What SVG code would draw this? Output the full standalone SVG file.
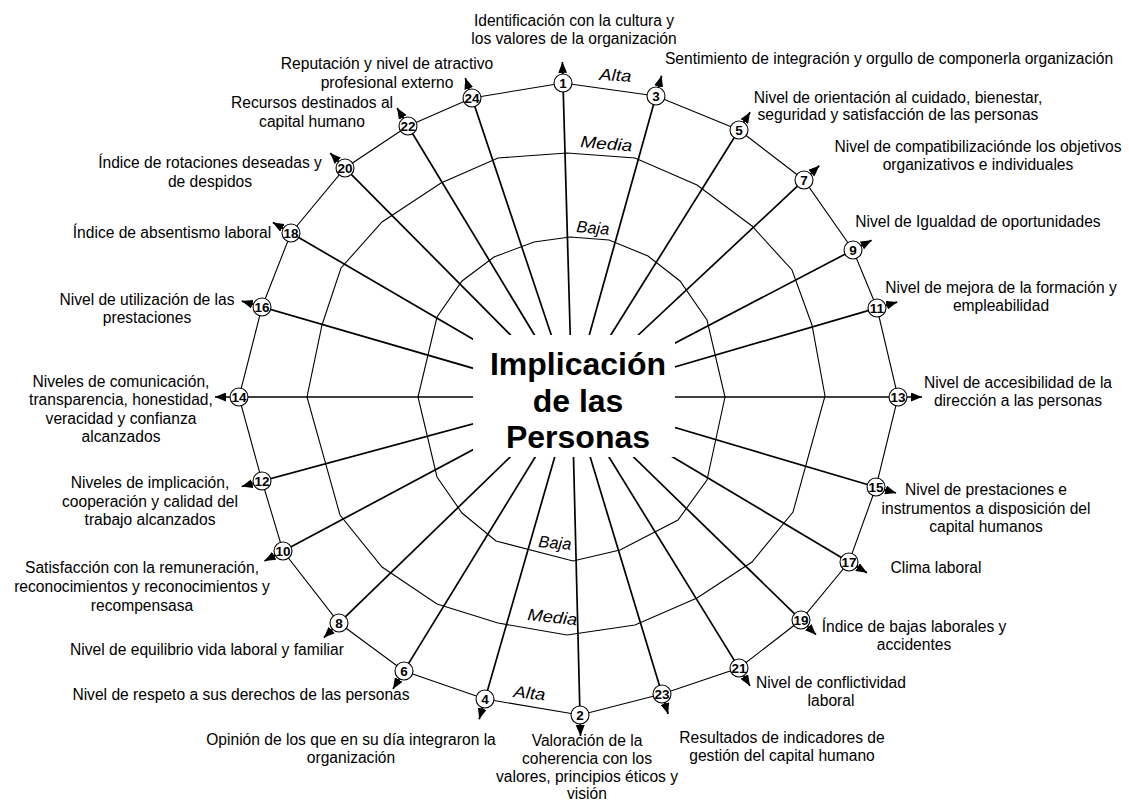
<svg xmlns="http://www.w3.org/2000/svg" width="1129" height="804" viewBox="0 0 1129 804">
  <style>
    .ring { fill: none; stroke: #000; stroke-width: 1.1; stroke-linejoin: miter; }
    .spoke { stroke: #000; stroke-width: 1.7; fill: none; marker-end: url(#arrow); }
    .node circle { fill: #fff; stroke: #000; stroke-width: 1.1; }
    .num { font-family: "Liberation Sans", Arial, sans-serif; font-weight: bold; font-size: 13.5px; text-anchor: middle; fill: #000; }
    .lbl { font-family: "Liberation Sans", Arial, sans-serif; font-size: 15.6px; text-anchor: middle; fill: #000; }
    .lvl { font-family: "Liberation Sans", Arial, sans-serif; font-style: italic; font-size: 16.5px; fill: #000; }
    .title { font-family: "Liberation Sans", Arial, sans-serif; font-weight: bold; font-size: 32px; text-anchor: middle; fill: #000; }
  </style>
  <defs>
    <marker id="arrow" viewBox="0 0 11 9" refX="11" refY="4.5" markerWidth="11" markerHeight="9" markerUnits="userSpaceOnUse" orient="auto">
      <path d="M0,0 L11,4.5 L0,9 z" fill="#000"/>
    </marker>
  </defs>

  <rect width="1129" height="804" fill="#fff"/>

  <!-- level rings: Baja (inner), Media, Alta (outer, through the numbered points) -->
  <g id="rings">
    <polygon class="ring" points="570,237 609,240 648,256 680,281 707,320 725,397 707,480 678,520 620,550 573,561 496,541 462,513 437,477 418,397 437,317 462,281 494,257 534,242"/>
    <polygon class="ring" points="567,153 635,158 697,185 752,226 792,270 812,325 825,396 793,512 752,562 697,598 635,625 567,635 498,623 437,604 382,567 340,515 307,397 322,325 341,268 382,222 441,183 498,158"/>
    <polygon class="ring" points="563,83 656,96 739,130 804,180 853,250 877,308 898,397 876,487 849,562 801,620 739,668 662,694 580,715 485,699 404,671 339,623 283,551 262,481 239,397 262,307 291,233 345,168 408,126 472,98"/>
  </g>

  <!-- spokes from the centre, each ending in an arrowhead past its point -->
  <g id="connectors">
    <line class="spoke" x1="572" y1="397" x2="562.4" y2="62"/>
    <line class="spoke" x1="572" y1="397" x2="661.6" y2="75.8"/>
    <line class="spoke" x1="572" y1="397" x2="750.1" y2="112.2"/>
    <line class="spoke" x1="572" y1="397" x2="819.3" y2="165.7"/>
    <line class="spoke" x1="572" y1="397" x2="871.6" y2="240.3"/>
    <line class="spoke" x1="572" y1="397" x2="897.2" y2="302.1"/>
    <line class="spoke" x1="572" y1="397" x2="922" y2="397"/>
    <line class="spoke" x1="572" y1="397" x2="896.1" y2="493"/>
    <line class="spoke" x1="572" y1="397" x2="867" y2="572.7"/>
    <line class="spoke" x1="572" y1="397" x2="816" y2="634.7"/>
    <line class="spoke" x1="572" y1="397" x2="750" y2="685.9"/>
    <line class="spoke" x1="572" y1="397" x2="668.1" y2="714.1"/>
    <line class="spoke" x1="572" y1="397" x2="580.5" y2="736"/>
    <line class="spoke" x1="572" y1="397" x2="479.2" y2="719.2"/>
    <line class="spoke" x1="572" y1="397" x2="393" y2="688.9"/>
    <line class="spoke" x1="572" y1="397" x2="323.9" y2="637.6"/>
    <line class="spoke" x1="572" y1="397" x2="264.5" y2="560.9"/>
    <line class="spoke" x1="572" y1="397" x2="241.7" y2="486.5"/>
    <line class="spoke" x1="572" y1="397" x2="215" y2="397"/>
    <line class="spoke" x1="572" y1="397" x2="241.8" y2="301.1"/>
    <line class="spoke" x1="572" y1="397" x2="272.9" y2="222.4"/>
    <line class="spoke" x1="572" y1="397" x2="330.2" y2="153.1"/>
    <line class="spoke" x1="572" y1="397" x2="397.1" y2="108"/>
    <line class="spoke" x1="572" y1="397" x2="465.3" y2="78.1"/>
  </g>

  <!-- level names -->
  <g id="levels">
    <text class="lvl" x="599" y="80" textLength="32" lengthAdjust="spacingAndGlyphs" transform="rotate(3 599 80)">Alta</text>
    <text class="lvl" x="580" y="147" textLength="52" lengthAdjust="spacingAndGlyphs" transform="rotate(5 580 147)">Media</text>
    <text class="lvl" x="576" y="232" textLength="33" lengthAdjust="spacingAndGlyphs" transform="rotate(5 576 232)">Baja</text>
    <text class="lvl" x="538" y="547" textLength="33" lengthAdjust="spacingAndGlyphs" transform="rotate(5 538 547)">Baja</text>
    <text class="lvl" x="527" y="620" textLength="50" lengthAdjust="spacingAndGlyphs" transform="rotate(6 527 620)">Media</text>
    <text class="lvl" x="513" y="697" textLength="32" lengthAdjust="spacingAndGlyphs" transform="rotate(6 513 697)">Alta</text>
  </g>

  <!-- centre -->
  <g id="center">
    <rect x="473" y="335" width="202" height="122" fill="#fff"/>
    <text class="title" x="578" y="375">Implicación</text>
    <text class="title" x="578" y="412">de las</text>
    <text class="title" x="578" y="448">Personas</text>
  </g>

  <!-- numbered points -->
  <g id="n1" class="node"><circle cx="563" cy="83" r="9"/><text class="num" x="563" y="87.8">1</text></g>
  <g id="n3" class="node"><circle cx="656" cy="96" r="9"/><text class="num" x="656" y="100.8">3</text></g>
  <g id="n5" class="node"><circle cx="739" cy="130" r="9"/><text class="num" x="739" y="134.8">5</text></g>
  <g id="n7" class="node"><circle cx="804" cy="180" r="9"/><text class="num" x="804" y="184.8">7</text></g>
  <g id="n9" class="node"><circle cx="853" cy="250" r="9"/><text class="num" x="853" y="254.8">9</text></g>
  <g id="n11" class="node"><circle cx="877" cy="308" r="9"/><text class="num" x="877" y="312.8">11</text></g>
  <g id="n13" class="node"><circle cx="898" cy="397" r="9"/><text class="num" x="898" y="401.8">13</text></g>
  <g id="n15" class="node"><circle cx="876" cy="487" r="9"/><text class="num" x="876" y="491.8">15</text></g>
  <g id="n17" class="node"><circle cx="849" cy="562" r="9"/><text class="num" x="849" y="566.8">17</text></g>
  <g id="n19" class="node"><circle cx="801" cy="620" r="9"/><text class="num" x="801" y="624.8">19</text></g>
  <g id="n21" class="node"><circle cx="739" cy="668" r="9"/><text class="num" x="739" y="672.8">21</text></g>
  <g id="n23" class="node"><circle cx="662" cy="694" r="9"/><text class="num" x="662" y="698.8">23</text></g>
  <g id="n2" class="node"><circle cx="580" cy="715" r="9"/><text class="num" x="580" y="719.8">2</text></g>
  <g id="n4" class="node"><circle cx="485" cy="699" r="9"/><text class="num" x="485" y="703.8">4</text></g>
  <g id="n6" class="node"><circle cx="404" cy="671" r="9"/><text class="num" x="404" y="675.8">6</text></g>
  <g id="n8" class="node"><circle cx="339" cy="623" r="9"/><text class="num" x="339" y="627.8">8</text></g>
  <g id="n10" class="node"><circle cx="283" cy="551" r="9"/><text class="num" x="283" y="555.8">10</text></g>
  <g id="n12" class="node"><circle cx="262" cy="481" r="9"/><text class="num" x="262" y="485.8">12</text></g>
  <g id="n14" class="node"><circle cx="239" cy="397" r="9"/><text class="num" x="239" y="401.8">14</text></g>
  <g id="n16" class="node"><circle cx="262" cy="307" r="9"/><text class="num" x="262" y="311.8">16</text></g>
  <g id="n18" class="node"><circle cx="291" cy="233" r="9"/><text class="num" x="291" y="237.8">18</text></g>
  <g id="n20" class="node"><circle cx="345" cy="168" r="9"/><text class="num" x="345" y="172.8">20</text></g>
  <g id="n22" class="node"><circle cx="408" cy="126" r="9"/><text class="num" x="408" y="130.8">22</text></g>
  <g id="n24" class="node"><circle cx="472" cy="98" r="9"/><text class="num" x="472" y="102.8">24</text></g>

  <!-- indicator labels -->
  <g id="labels">
    <text class="lbl" x="574" y="26">Identificación con la cultura y<tspan x="574" dy="18">los valores de la organización</tspan></text>
    <text class="lbl" x="889" y="64">Sentimiento de integración y orgullo de componerla organización</text>
    <text class="lbl" x="898" y="103">Nivel de orientación al cuidado, bienestar,<tspan x="898" dy="17">seguridad y satisfacción de las personas</tspan></text>
    <text class="lbl" x="978" y="152">Nivel de compatibilizaciónde los objetivos<tspan x="978" dy="18">organizativos e individuales</tspan></text>
    <text class="lbl" x="978" y="227">Nivel de Igualdad de oportunidades</text>
    <text class="lbl" x="1001" y="293">Nivel de mejora de la formación y<tspan x="1001" dy="18">empleabilidad</tspan></text>
    <text class="lbl" x="1018" y="388">Nivel de accesibilidad de la<tspan x="1018" dy="18">dirección a las personas</tspan></text>
    <text class="lbl" x="986" y="495">Nivel de prestaciones e<tspan x="986" dy="18.5">instrumentos a disposición del</tspan><tspan x="986" dy="18.5">capital humanos</tspan></text>
    <text class="lbl" x="936" y="573">Clima laboral</text>
    <text class="lbl" x="914" y="632">Índice de bajas laborales y<tspan x="914" dy="18">accidentes</tspan></text>
    <text class="lbl" x="831" y="688">Nivel de conflictividad<tspan x="831" dy="18">laboral</tspan></text>
    <text class="lbl" x="782" y="743">Resultados de indicadores de<tspan x="782" dy="18">gestión del capital humano</tspan></text>
    <text class="lbl" x="587" y="746">Valoración de la<tspan x="587" dy="17.8">coherencia con los</tspan><tspan x="587" dy="17.8">valores, principios éticos y</tspan><tspan x="587" dy="17.8">visión</tspan></text>
    <text class="lbl" x="351" y="745">Opinión de los que en su día integraron la<tspan x="351" dy="18">organización</tspan></text>
    <text class="lbl" x="241" y="700">Nivel de respeto a sus derechos de las personas</text>
    <text class="lbl" x="207" y="655">Nivel de equilibrio vida laboral y familiar</text>
    <text class="lbl" x="142" y="573">Satisfacción con la remuneración,<tspan x="142" dy="19">reconocimientos y reconocimientos y</tspan><tspan x="142" dy="19">recompensasa</tspan></text>
    <text class="lbl" x="150" y="488">Niveles de implicación,<tspan x="150" dy="18.5">cooperación y calidad del</tspan><tspan x="150" dy="18.5">trabajo alcanzados</tspan></text>
    <text class="lbl" x="121" y="387">Niveles de comunicación,<tspan x="121" dy="18.3">transparencia, honestidad,</tspan><tspan x="121" dy="18.3">veracidad y confianza</tspan><tspan x="121" dy="18.3">alcanzados</tspan></text>
    <text class="lbl" x="147" y="305">Nivel de utilización de las<tspan x="147" dy="18">prestaciones</tspan></text>
    <text class="lbl" x="172" y="238">Índice de absentismo laboral</text>
    <text class="lbl" x="210" y="168">Índice de rotaciones deseadas y<tspan x="210" dy="19">de despidos</tspan></text>
    <text class="lbl" x="312" y="108">Recursos destinados al<tspan x="312" dy="19">capital humano</tspan></text>
    <text class="lbl" x="387" y="69">Reputación y nivel de atractivo<tspan x="387" dy="19">profesional externo</tspan></text>
  </g>
</svg>
